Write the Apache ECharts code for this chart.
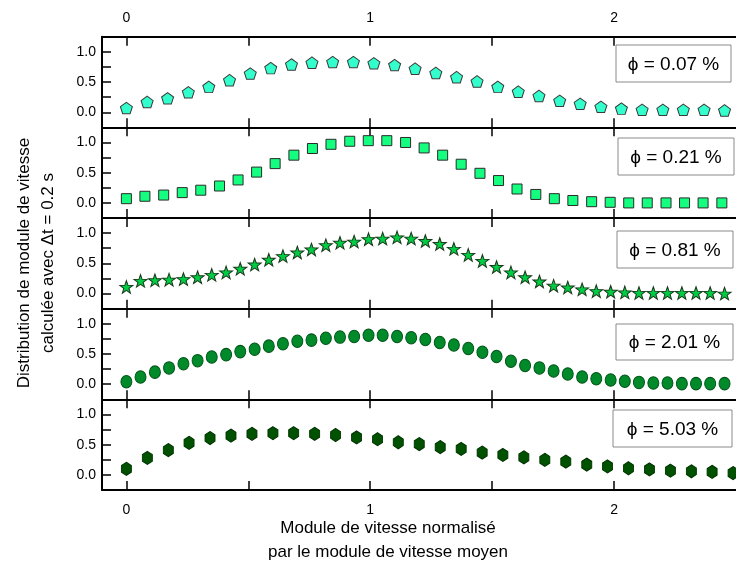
<!DOCTYPE html>
<html><head><meta charset="utf-8">
<script src="https://cdn.jsdelivr.net/npm/echarts@6/dist/echarts.min.js"></script>
<style>html,body{margin:0;padding:0;background:#fff}#c{width:736px;height:568px}</style>
</head><body><div id="c"></div>
<script>
// ---- data ----
const panelLabels = ['ϕ = 0.07 %', 'ϕ = 0.21 %', 'ϕ = 0.81 %', 'ϕ = 2.01 %', 'ϕ = 5.03 %'];
const x1 = [0,0.085,0.169,0.254,0.338,0.423,0.508,0.592,0.677,0.761,0.846,0.931,1.015,1.100,1.184,1.269,1.354,1.438,1.523,1.607,1.692,1.777,1.861,1.946,2.030,2.115,2.200,2.284,2.369,2.453];
const y1 = [0.07,0.17,0.23,0.33,0.42,0.53,0.64,0.73,0.79,0.82,0.83,0.83,0.81,0.78,0.72,0.65,0.58,0.51,0.42,0.34,0.27,0.19,0.14,0.09,0.06,0.04,0.04,0.04,0.04,0.03];
const x2 = [0,0.076,0.153,0.229,0.305,0.382,0.458,0.534,0.610,0.687,0.763,0.839,0.916,0.992,1.068,1.145,1.221,1.297,1.373,1.450,1.526,1.602,1.679,1.755,1.831,1.908,1.984,2.060,2.136,2.213,2.289,2.365,2.442];
const y2 = [0.07,0.11,0.13,0.17,0.21,0.28,0.38,0.51,0.65,0.79,0.90,0.97,1.02,1.03,1.03,1.00,0.91,0.79,0.64,0.49,0.37,0.23,0.14,0.07,0.04,0.02,0.01,0.0,0.0,0.0,0.0,0.0,0.0];
const x3 = [0,0.058,0.117,0.175,0.234,0.292,0.350,0.409,0.467,0.526,0.584,0.642,0.701,0.759,0.818,0.876,0.934,0.993,1.051,1.110,1.168,1.226,1.285,1.343,1.402,1.460,1.518,1.577,1.635,1.694,1.752,1.810,1.869,1.927,1.986,2.044,2.102,2.161,2.219,2.278,2.336,2.394,2.453];
const y3 = [0.11,0.21,0.22,0.23,0.24,0.27,0.31,0.35,0.41,0.48,0.56,0.62,0.68,0.73,0.80,0.84,0.86,0.90,0.91,0.93,0.91,0.87,0.82,0.74,0.64,0.54,0.44,0.35,0.27,0.20,0.13,0.10,0.07,0.04,0.03,0.02,0.01,0.01,0.01,0.01,0.01,0.01,0.0];
const x4 = [0,0.058,0.117,0.175,0.234,0.292,0.350,0.409,0.467,0.526,0.584,0.642,0.701,0.759,0.818,0.876,0.934,0.993,1.051,1.110,1.168,1.226,1.285,1.343,1.402,1.460,1.518,1.577,1.635,1.694,1.752,1.810,1.869,1.927,1.986,2.044,2.102,2.161,2.219,2.278,2.336,2.394,2.453];
const y4 = [0.04,0.12,0.20,0.27,0.34,0.39,0.45,0.49,0.54,0.58,0.63,0.67,0.71,0.73,0.76,0.78,0.79,0.81,0.81,0.79,0.77,0.74,0.69,0.65,0.59,0.53,0.46,0.38,0.31,0.27,0.22,0.17,0.12,0.09,0.07,0.05,0.03,0.02,0.02,0.01,0.01,0.01,0.01];
const x5 = [0,0.086,0.172,0.257,0.343,0.429,0.515,0.601,0.686,0.772,0.858,0.944,1.030,1.115,1.201,1.287,1.373,1.459,1.544,1.630,1.716,1.802,1.888,1.973,2.059,2.145,2.231,2.317,2.402,2.488];
const y5 = [0.10,0.28,0.41,0.53,0.61,0.65,0.68,0.69,0.69,0.68,0.66,0.62,0.59,0.54,0.51,0.46,0.43,0.37,0.33,0.29,0.25,0.22,0.17,0.14,0.11,0.09,0.07,0.06,0.05,0.03];
const xTickValues = [0, 0.5, 1, 1.5, 2];
const xTickLabels = [0, 1, 2];
const yTickLabels = [0, 0.5, 1.0];
const xTitle = 'Module de vitesse normalisé\npar le module de vitesse moyen';
const yTitle = 'Distribution de module de vitesse\ncalculée avec Δt = 0.2 s';

// ---- styles ----
const FONT = "'Liberation Sans', Arial, sans-serif";
const PENT = 'path://M0,-10 L9.511,-3.09 L5.878,8.09 L-5.878,8.09 L-9.511,-3.09 Z';
const HEX = 'path://M0,-10 L8.66,-5 L8.66,5 L0,10 L-8.66,5 L-8.66,-5 Z';
const STAR = 'path://M0,-10 L2.351,-3.236 L9.511,-3.09 L3.804,1.236 L5.878,8.09 L0,4 L-5.878,8.09 L-3.804,1.236 L-9.511,-3.09 L-2.351,-3.236 Z';
const panels = [
  {x: x1, y: y1, symbol: PENT, size: [12, 11.5], fill: '#33FFCC', stroke: '#3a3a3a'},
  {x: x2, y: y2, symbol: 'rect', size: [10, 10], fill: '#14FF80', stroke: '#2a2a2a'},
  {x: x3, y: y3, symbol: STAR, size: [13, 12.5], fill: '#00CC44', stroke: '#1a3a1a'},
  {x: x4, y: y4, symbol: 'circle', size: [11, 12.5], fill: '#008A2A', stroke: '#005518'},
  {x: x5, y: y5, symbol: HEX, size: [10, 13], fill: '#005200', stroke: '#003300'}
];
const boxes = [
  {l: 616, t: 45, w: 115, h: 37},
  {l: 618, t: 138, w: 116, h: 37},
  {l: 617, t: 231, w: 116, h: 37},
  {l: 616, t: 324, w: 117, h: 36},
  {l: 613, t: 410, w: 119, h: 37}
];

const TOP = 36.7, PH = 90.66, LEFT = 102, W = 640, TICK = 9;
const grid = [], xAxis = [], yAxis = [], series = [], graphic = [];
const yFmt = v => yTickLabels.some(t => Math.abs(t - v) < 1e-6) ? v.toFixed(1) : '';
panels.forEach((p, i) => {
  grid.push({left: LEFT, top: TOP + i * PH, width: W, height: PH, show: false});
  const lab = (show, m) => ({show, customValues: xTickLabels, margin: m, color: '#000', fontSize: 14, fontFamily: FONT,
    formatter: v => String(Math.round(v))});
  xAxis.push({gridIndex: i, type: 'value', min: -0.1, max: 2.5, position: 'bottom',
    axisLine: {show: true, onZero: false, lineStyle: {color: '#000', width: 2}},
    axisTick: {show: true, inside: true, length: TICK, customValues: xTickValues, lineStyle: {color: '#000', width: 1.5}},
    splitLine: {show: false}, axisLabel: lab(i === 4, 13)});
  xAxis.push({gridIndex: i, type: 'value', min: -0.1, max: 2.5, position: 'top',
    axisLine: {show: true, onZero: false, lineStyle: {color: '#000', width: 2}},
    axisTick: {show: true, inside: true, length: TICK, customValues: xTickValues, lineStyle: {color: '#000', width: 1.5}},
    splitLine: {show: false}, axisLabel: lab(i === 0, 12)});
  yAxis.push({gridIndex: i, type: 'value', min: -0.25, max: 1.25, interval: 0.25,
    axisLine: {show: true, onZero: false, lineStyle: {color: '#000', width: 2}},
    axisTick: {show: true, inside: true, length: TICK, lineStyle: {color: '#000', width: 1.5}},
    splitLine: {show: false},
    axisLabel: {show: true, margin: 6, color: '#000', fontSize: 14, fontFamily: FONT, formatter: yFmt}});
  series.push({type: 'scatter', xAxisIndex: 2 * i, yAxisIndex: i,
    data: p.x.map((xv, k) => [xv, p.y[k]]),
    symbol: p.symbol, symbolSize: p.size,
    itemStyle: {color: p.fill, borderColor: p.stroke, borderWidth: 1, opacity: 1},
    emphasis: {disabled: true}, clip: true});
  const b = boxes[i];
  graphic.push({type: 'rect', shape: {x: b.l, y: b.t, width: b.w, height: b.h},
    style: {fill: '#fff', stroke: '#8a8a8a', lineWidth: 1}, z: 100});
  graphic.push({type: 'text', x: b.l + b.w / 2, y: b.t + b.h / 2 + 1, z: 101,
    style: {text: panelLabels[i], fontSize: 19, fontFamily: FONT, fill: '#000', align: 'center', verticalAlign: 'middle'}});
});
graphic.push({type: 'text', x: 36, y: 263, rotation: Math.PI / 2, z: 101,
  style: {text: yTitle, fontSize: 17, fontFamily: FONT, fill: '#000', align: 'center', verticalAlign: 'middle', lineHeight: 24}});
graphic.push({type: 'text', x: 388, y: 540, z: 101,
  style: {text: xTitle, fontSize: 17, fontFamily: FONT, fill: '#000', align: 'center', verticalAlign: 'middle', lineHeight: 24}});

const chart = echarts.init(document.getElementById('c'), null, {renderer: 'canvas'});
chart.setOption({animation: false, backgroundColor: '#fff', grid, xAxis, yAxis, series, graphic});
</script></body></html>
